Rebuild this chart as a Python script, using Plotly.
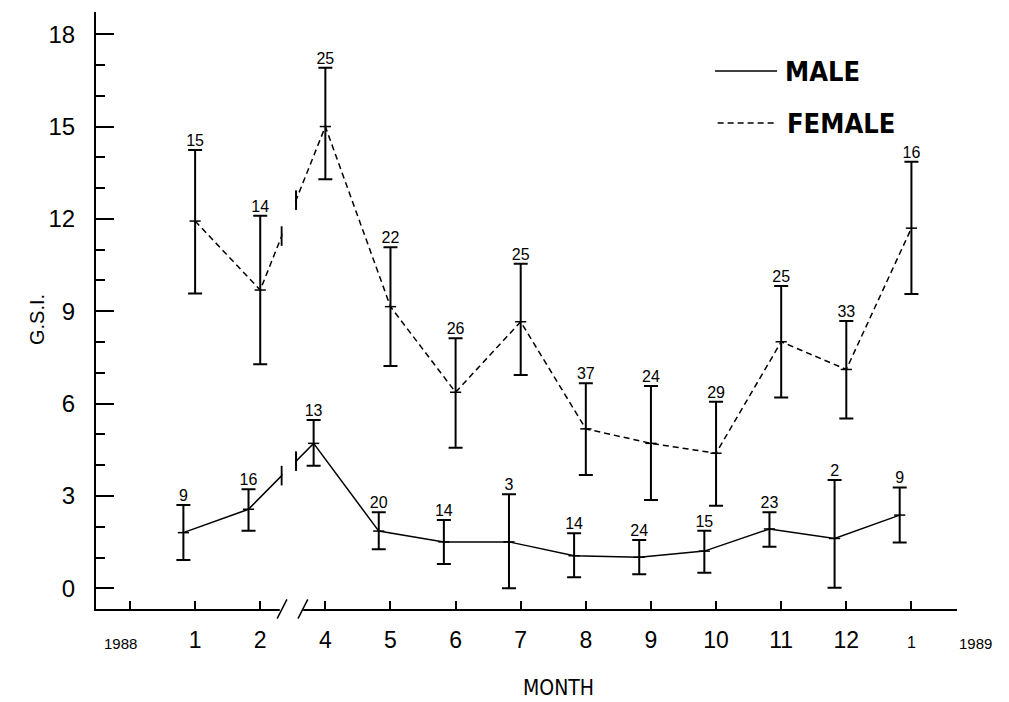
import numpy as np
import plotly.graph_objects as go

# ---------------- data ----------------
month_labels = ["1", "2", "4", "5", "6", "7", "8", "9", "10", "11", "12", "1"]

female_mean = [11.93, 9.69, 15.00, 9.15, 6.37, 8.66, 5.18, 4.71, 4.39, 8.01, 7.11, 11.70]
female_hi   = [14.24, 12.10, 16.91, 11.08, 8.12, 10.54, 6.66, 6.57, 6.06, 9.82, 8.68, 13.86]
female_lo   = [9.58, 7.28, 13.29, 7.22, 4.57, 6.93, 3.68, 2.87, 2.68, 6.20, 5.52, 9.56]
female_n    = [15, 14, 25, 22, 26, 25, 37, 24, 29, 25, 33, 16]

male_mean = [1.81, 2.57, 4.71, 1.86, 1.51, 1.51, 1.06, 1.01, 1.21, 1.93, 1.62, 2.38]
male_hi   = [2.71, 3.22, 5.47, 2.47, 2.22, 3.06, 1.79, 1.57, 1.87, 2.47, 3.52, 3.28]
male_lo   = [0.92, 1.87, 3.98, 1.27, 0.79, 0.00, 0.36, 0.46, 0.51, 1.35, 0.02, 1.49]
male_n    = [9, 16, 13, 20, 14, 3, 14, 24, 15, 23, 2, 9]

y_ticks = [0, 3, 6, 9, 12, 15, 18]

# ---------------- layout helpers ----------------
MALE_SHIFT = -0.18          # males drawn slightly left of the tick
BREAK_A, BREAK_B = 2.33, 2.55   # axis break (between month 2 and 4)
FONT = "Liberation Sans, Arial, sans-serif"
NARROW = "Liberation Sans Narrow, Arial Narrow, DejaVu Sans Condensed, sans-serif"

xf = np.arange(1, len(month_labels) + 1, dtype=float)
xm = xf + MALE_SHIFT

fm, fh, fl = map(np.array, (female_mean, female_hi, female_lo))
mm, mh, ml = map(np.array, (male_mean, male_hi, male_lo))

fig = go.Figure()

def series(x, mean, hi, lo, dash, n):
    fig.add_trace(go.Scatter(
        x=x, y=mean, mode="lines+markers",
        line=dict(color="black", width=1.5, dash=dash),
        marker=dict(symbol="line-ew", size=8, line=dict(color="black", width=1.5)),
        error_y=dict(type="data", symmetric=False, array=hi - mean,
                     arrayminus=mean - lo, width=7, thickness=2, color="black"),
        hoverinfo="skip", showlegend=False))
    fig.add_trace(go.Scatter(
        x=x, y=hi, mode="text", text=[str(v) for v in n],
        textposition="top center",
        textfont=dict(family=FONT, size=16, color="black"),
        hoverinfo="skip", showlegend=False))

series(xf, fm, fh, fl, "6px,4px", female_n)
series(xm, mm, mh, ml, "solid", male_n)

# end caps of the broken line at the axis break
cap_x, cap_y = [], []
for x, mean in ((xf, fm), (xm, mm)):
    for b in (BREAK_A, BREAK_B):
        cap_x.append(b)
        cap_y.append(float(np.interp(b, [x[1], x[2]], [mean[1], mean[2]])))
fig.add_trace(go.Scatter(
    x=cap_x, y=cap_y, mode="markers",
    marker=dict(symbol="line-ns", size=14, line=dict(color="black", width=2)),
    hoverinfo="skip", showlegend=False))

shapes = [
    # gap in the lines
    dict(type="rect", xref="x", yref="paper", x0=BREAK_A + 0.016, x1=BREAK_B - 0.016,
         y0=0.004, y1=1, fillcolor="white", line=dict(width=0), layer="above"),
    # gap in the x axis
    dict(type="rect", xref="x", yref="paper", x0=2.30, x1=2.66,
         y0=-0.02, y1=0.02, fillcolor="white", line=dict(width=0), layer="above"),
    # slashes
    dict(type="line", xref="x", yref="paper", x0=2.26, x1=2.41, y0=-0.016, y1=0.016,
         line=dict(color="black", width=1.5), layer="above"),
    dict(type="line", xref="x", yref="paper", x0=2.58, x1=2.73, y0=-0.016, y1=0.016,
         line=dict(color="black", width=1.5), layer="above"),
    # legend samples
    dict(type="line", xref="paper", yref="paper", x0=0.719, x1=0.791, y0=0.901, y1=0.901,
         line=dict(color="black", width=1.5)),
    dict(type="line", xref="paper", yref="paper", x0=0.722, x1=0.791, y0=0.814, y1=0.814,
         line=dict(color="black", width=1.5, dash="6px,4px")),
]

annotations = [
    dict(text="<b>MALE</b>", xref="paper", yref="paper", x=0.798, y=0.901,
         xanchor="left", yanchor="middle", showarrow=False,
         font=dict(family=NARROW, size=27, color="black")),
    dict(text="<b>FEMALE</b>", xref="paper", yref="paper", x=0.800, y=0.814,
         xanchor="left", yanchor="middle", showarrow=False,
         font=dict(family=NARROW, size=27, color="black")),
    dict(text="1988", xref="x", yref="paper", x=-0.14, y=-0.057,
         xanchor="center", yanchor="middle", showarrow=False,
         font=dict(family=FONT, size=15, color="black")),
    dict(text="1989", xref="paper", yref="paper", x=1.021, y=-0.057,
         xanchor="center", yanchor="middle", showarrow=False,
         font=dict(family=FONT, size=15, color="black")),
    dict(text="MONTH", xref="paper", yref="paper", x=0.537, y=-0.132,
         xanchor="center", yanchor="middle", showarrow=False,
         font=dict(family=NARROW, size=21, color="black")),
    dict(text="G.S.I.", xref="paper", yref="paper", x=-0.0685, y=0.484,
         xanchor="center", yanchor="middle", showarrow=False, textangle=-90,
         font=dict(family=FONT, size=20, color="black")),
]

tick_text = [""] + month_labels[:-1] + ["<span style='font-size:16px'>%s</span>" % month_labels[-1]]

fig.update_layout(
    width=1009, height=702,
    margin=dict(l=96, r=52, t=12, b=93),
    paper_bgcolor="white", plot_bgcolor="white",
    font=dict(family=FONT, color="black"),
    shapes=shapes, annotations=annotations,
    xaxis=dict(range=[-0.522, 12.70], tickmode="array",
               tickvals=list(range(len(tick_text))), ticktext=tick_text,
               ticks="inside", ticklen=8, tickwidth=1.5, tickcolor="black",
               showline=True, linecolor="black", linewidth=1.5,
               showgrid=False, zeroline=False, ticklabelstandoff=10,
               tickfont=dict(family=FONT, size=23, color="black")),
    yaxis=dict(range=[-0.67, 18.72], tickmode="array", tickvals=y_ticks,
               ticks="inside", ticklen=18, tickwidth=1.5, tickcolor="black",
               minor=dict(dtick=1, tick0=0, ticks="inside", ticklen=9,
                          tickwidth=1.5, tickcolor="black"),
               showline=True, linecolor="black", linewidth=2,
               showgrid=False, zeroline=False, ticklabelstandoff=14,
               tickfont=dict(family=FONT, size=24, color="black")),
)

fig.write_html("out.html")
